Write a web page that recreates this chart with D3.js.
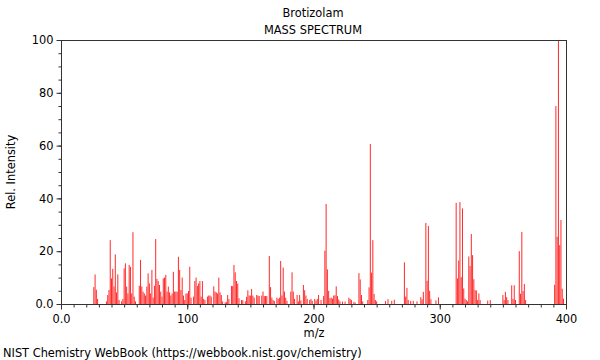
<!DOCTYPE html>
<html>
<head>
<meta charset="utf-8">
<script src="https://cdn.jsdelivr.net/npm/d3@7"></script>
<style>
  body { margin: 0; background: #fff; }
  text { font-family: "DejaVu Sans", sans-serif; font-size: 11.4px; fill: #000; }
</style>
</head>
<body>
<div id="chart"></div>
<script>
// peaks
var mz = [26, 27, 28, 29, 36, 37, 38, 39, 40, 41, 42, 43, 44, 45, 46, 48, 49, 50, 51, 52, 53, 54, 55, 56, 57, 58, 59,
  62, 63, 64, 65, 66, 67, 68, 69, 70, 71, 72, 73, 74, 75, 76, 77, 78, 79, 80, 81, 82, 83, 84, 85, 86, 87, 88, 89, 90,
  91, 92, 93, 94, 95, 96, 97, 98, 99, 100, 101, 102, 103, 105, 106, 107, 108, 109, 110, 111, 112, 113, 114, 116, 117,
  118, 119, 121, 122, 123, 124, 125, 126, 127, 128, 130, 131, 132, 133, 135, 136, 137, 138, 139, 140, 141, 143, 144,
  146, 147, 148, 149, 150, 151, 152, 153, 155, 156, 157, 159, 160, 161, 162, 163, 165, 166, 167, 168, 169, 171, 172,
  173, 174, 175, 176, 177, 178, 179, 182, 183, 184, 185, 187, 188, 189, 190, 192, 193, 194, 195, 197, 198, 199, 201,
  202, 203, 204, 206, 208, 209, 210, 211, 212, 213, 214, 215, 216, 217, 218, 219, 220, 221, 223, 225, 228, 229, 230,
  232, 233, 236, 237, 238, 239, 243, 244, 245, 246, 247, 248, 249, 250, 257, 259, 262, 264, 272, 273, 274, 275, 277,
  279, 282, 285, 286, 287, 289, 290, 291, 292, 293, 297, 299, 313, 314, 315, 316, 317, 318, 319, 320, 321, 322, 323,
  324, 325, 326, 327, 328, 329, 330, 331, 332, 338, 340, 350, 351, 352, 353, 354, 357, 358, 359, 360, 363, 364, 365,
  366, 367, 368, 391, 392, 393, 394, 395, 396, 397, 398];
var intensity = [6.4, 11.2, 5.4, 1.9, 1, 3.4, 5.3, 24.2, 9.7, 13.3, 6.6, 18.8, 4.4, 11.2, 1.5, 1, 1.9, 13.5, 15.4, 6.6, 4, 14.8, 14.1, 4, 27.2, 2.8, 1,
  6.9, 16.7, 6.6, 4.7, 4, 3.2, 6.6, 11.6, 7.8, 4, 12.9, 2.4, 6.9, 24.6, 9.5, 8.7, 7.2, 4.7, 2.8, 9.7, 10, 11, 4.7, 6.6, 4.4, 3.2, 4, 12.2, 4.7,
  4.7, 4.7, 17.9, 12.9, 5.3, 10, 3.2, 1.5, 4, 4, 4.9, 14.1, 2.4, 2.8, 8.7, 10, 6.9, 7.8, 8.7, 2.8, 8.7, 1.9, 1.5, 2.8, 3.2,
  3.2, 2.8, 6.7, 4.7, 4.4, 4, 10, 4.4, 3.4, 1, 0.6, 0.8, 3.4, 1.9, 6.8, 6.8, 14.8, 12, 8.7, 7.7, 2.2, 1.5, 1.4,
  1, 2.7, 5.2, 3.2, 3.2, 5.7, 3.2, 2.4, 3.4, 3.2, 3, 3.2, 4.7, 3, 3, 3, 18.2, 6.4, 2.4, 1.5, 1.1, 2.4, 1.9,
  2.4, 16.3, 3.2, 13.8, 4.7, 2.4, 1.2, 4.7, 12, 4.7, 1.9, 3.4, 1, 3.4, 1.4, 7.2, 5.2, 3.2, 1.9, 1.5, 1.9, 1.2, 1.9,
  1.3, 1.9, 3.4, 1.5, 3, 20.2, 37.9, 13.1, 5, 2.2, 2.4, 2, 3.2, 3.3, 6.7, 3, 1.7, 1, 0.9, 0.9, 2.4, 1.9, 1.5,
  0.8, 0.5, 11.7, 9.3, 3.4, 1, 1.5, 6.3, 60.6, 11.9, 24.2, 3.8, 1.5, 1, 1.1, 1.8, 1.2, 1.6, 15.8, 2.8, 6.1, 1.5, 1.2,
  1.2, 1, 2.6, 1.8, 4.6, 30.7, 8.8, 29.5, 5, 1.8, 1.4, 2.5, 38.3, 9.7, 16.5, 38.6, 10.2, 36.2, 5.9, 2, 1.5, 1, 18,
  14.4, 26.5, 18.5, 9.4, 5.3, 5.1, 1.5, 4, 1.5, 1.3, 1.5, 3.4, 1.5, 4.6, 2.6, 1.5, 7.1, 1.9, 7.1, 1.5, 20, 3.9, 27.3,
  4.9, 7.6, 1.5, 7.3, 75, 25.5, 100, 22.3, 31.8, 5.8, 2];

var xTicks = [0, 100, 200, 300, 400];
var xTickLabels = ["0.0", "100", "200", "300", "400"];
var yTicks = [0, 20, 40, 60, 80, 100];
var yTickLabels = ["0.0", "20", "40", "60", "80", "100"];

var width = 600, height = 360;
var plotLeft = 61, plotRight = 566, plotTop = 40, plotBottom = 304;

var svg = d3.select("#chart").append("svg")
    .attr("width", width)
    .attr("height", height);

var x = d3.scaleLinear().domain([0, 400]).range([plotLeft, plotRight]);
var y = d3.scaleLinear().domain([0, 100]).range([plotBottom, plotTop]);

var peaks = mz.map(function (m, i) { return { m: m, v: intensity[i] }; });

// sticks
svg.append("g")
    .selectAll("line")
    .data(peaks)
    .enter().append("line")
    .attr("x1", function (d) { return x(d.m); })
    .attr("x2", function (d) { return x(d.m); })
    .attr("y1", y(0))
    .attr("y2", function (d) { return y(d.v); })
    .attr("stroke", "#ff2a2a")
    .attr("stroke-width", 1);

// frame
svg.append("rect")
    .attr("x", plotLeft + 0.5)
    .attr("y", plotTop + 0.5)
    .attr("width", plotRight - plotLeft)
    .attr("height", plotBottom - plotTop)
    .attr("fill", "none")
    .attr("stroke", "#333")
    .attr("stroke-width", 1);

// x axis
var xAxis = svg.append("g").attr("transform", "translate(0," + (plotBottom + 0.5) + ")");
xAxis.append("g").call(d3.axisBottom(x).tickValues(d3.range(0, 401, 10)).tickSize(3).tickFormat(""));
xAxis.append("g").call(d3.axisBottom(x).tickValues(xTicks).tickSize(5).tickFormat(function (d, i) { return xTickLabels[i]; }));
xAxis.selectAll(".domain").remove();
xAxis.selectAll("line").attr("stroke", "#333");
xAxis.selectAll("text").attr("y", 10);

// y axis
var yAxis = svg.append("g").attr("transform", "translate(" + (plotLeft + 0.5) + ",0)");
yAxis.append("g").call(d3.axisLeft(y).tickValues(d3.range(0, 101, 5)).tickSize(3).tickFormat(""));
yAxis.append("g").call(d3.axisLeft(y).tickValues(yTicks).tickSize(5).tickFormat(function (d, i) { return yTickLabels[i]; }));
yAxis.selectAll(".domain").remove();
yAxis.selectAll("line").attr("stroke", "#333");
yAxis.selectAll("text").attr("x", -8);

svg.selectAll(".tick text").style("font-family", "DejaVu Sans, sans-serif").style("font-size", "11.4px").attr("fill", "#000");

// titles
svg.append("text").attr("x", 313).attr("y", 17).attr("text-anchor", "middle").text("Brotizolam");
svg.append("text").attr("x", 313).attr("y", 34).attr("text-anchor", "middle").text("MASS SPECTRUM");
svg.append("text").attr("x", 314).attr("y", 337).attr("text-anchor", "middle").text("m/z");
svg.append("text")
    .attr("transform", "translate(15," + ((plotTop + plotBottom) / 2) + ") rotate(-90)")
    .attr("text-anchor", "middle")
    .text("Rel. Intensity");
svg.append("text").attr("x", 3).attr("y", 357).text("NIST Chemistry WebBook (https://webbook.nist.gov/chemistry)");
</script>
</body>
</html>
